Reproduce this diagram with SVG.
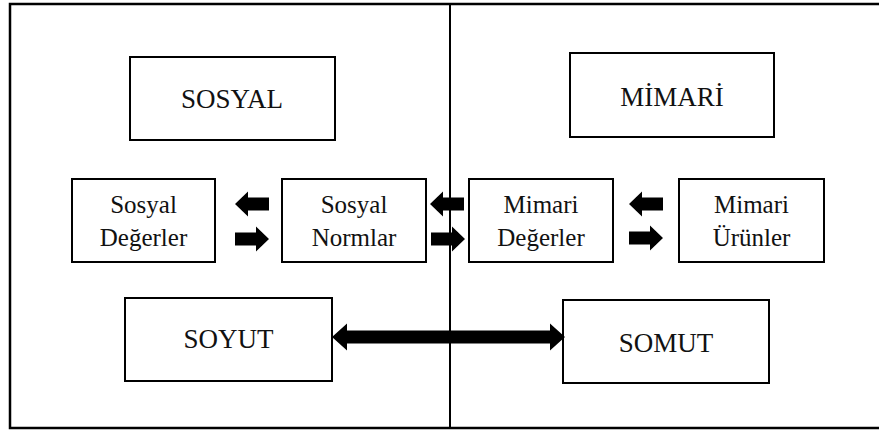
<svg xmlns="http://www.w3.org/2000/svg" width="879" height="430" viewBox="0 0 879 430">
  <style>
    .box { fill: #fff; stroke: #000; stroke-width: 2; }
    .frame { fill: none; stroke: #000; stroke-width: 2.5; }
    text { font-family: 'Liberation Serif', 'DejaVu Serif', serif; fill: #111; text-anchor: middle; }
    .big { font-size: 27px; }
    .small { font-size: 25px; }
    .arr { fill: #000; stroke: none; }
  </style>
  <defs>
    <!-- small block arrow pointing right, origin at its left-centre -->
    <path id="arrR" d="M0,-6.5 H21 V-12.5 L34,0 L21,12.5 V6.5 H0 Z"/>
    <!-- small block arrow pointing left, origin at its left tip -->
    <path id="arrL" d="M0,0 L13,-12.5 V-6.5 H34 V6.5 H13 V12.5 Z"/>
  </defs>

  <!-- outer frame and middle divider -->
  <rect class="frame" x="10" y="4" width="880" height="424"/>
  <line x1="450" y1="4" x2="450" y2="428" stroke="#000" stroke-width="2"/>

  <g id="sosyal">
    <rect class="box" x="130" y="57" width="205" height="83"/>
    <text class="big" x="232" y="108" font-family="Liberation Serif">SOSYAL</text>
  </g>
  <g id="mimari">
    <rect class="box" x="570" y="53" width="204" height="84"/>
    <text class="big" x="672" y="106" font-family="Liberation Serif">MİMARİ</text>
  </g>
  <g id="sosyal-degerler">
    <rect class="box" x="72" y="179" width="143" height="83"/>
    <text class="small" x="143.5" y="213" font-family="Liberation Serif">Sosyal</text>
    <text class="small" x="143.5" y="246" font-family="Liberation Serif">Değerler</text>
  </g>
  <g id="sosyal-normlar">
    <rect class="box" x="282" y="179" width="144" height="83"/>
    <text class="small" x="354" y="213" font-family="Liberation Serif">Sosyal</text>
    <text class="small" x="354" y="246" font-family="Liberation Serif">Normlar</text>
  </g>
  <g id="mimari-degerler">
    <rect class="box" x="469" y="179" width="144" height="83"/>
    <text class="small" x="541" y="213" font-family="Liberation Serif">Mimari</text>
    <text class="small" x="541" y="246" font-family="Liberation Serif">Değerler</text>
  </g>
  <g id="mimari-urunler">
    <rect class="box" x="679" y="179" width="145" height="83"/>
    <text class="small" x="751.5" y="213" font-family="Liberation Serif">Mimari</text>
    <text class="small" x="751.5" y="246" font-family="Liberation Serif">Ürünler</text>
  </g>
  <g id="soyut">
    <rect class="box" x="125" y="298" width="207" height="83"/>
    <text class="big" x="228.5" y="348" font-family="Liberation Serif">SOYUT</text>
  </g>
  <g id="somut">
    <rect class="box" x="563" y="300" width="206" height="83"/>
    <text class="big" x="666" y="352" font-family="Liberation Serif">SOMUT</text>
  </g>

  <g id="connectors" class="arr">
    <use href="#arrL" x="235" y="204"/>
    <use href="#arrR" x="235" y="239"/>
    <use href="#arrL" x="430" y="204"/>
    <use href="#arrR" x="431" y="239"/>
    <use href="#arrL" x="629" y="204"/>
    <use href="#arrR" x="629" y="238"/>
    <!-- long two-headed arrow between SOYUT and SOMUT -->
    <path d="M332,337 L347,323.5 V330.5 H550 V323.5 L565,337 L550,350.5 V343.5 H347 V350.5 Z"/>
  </g>
</svg>
